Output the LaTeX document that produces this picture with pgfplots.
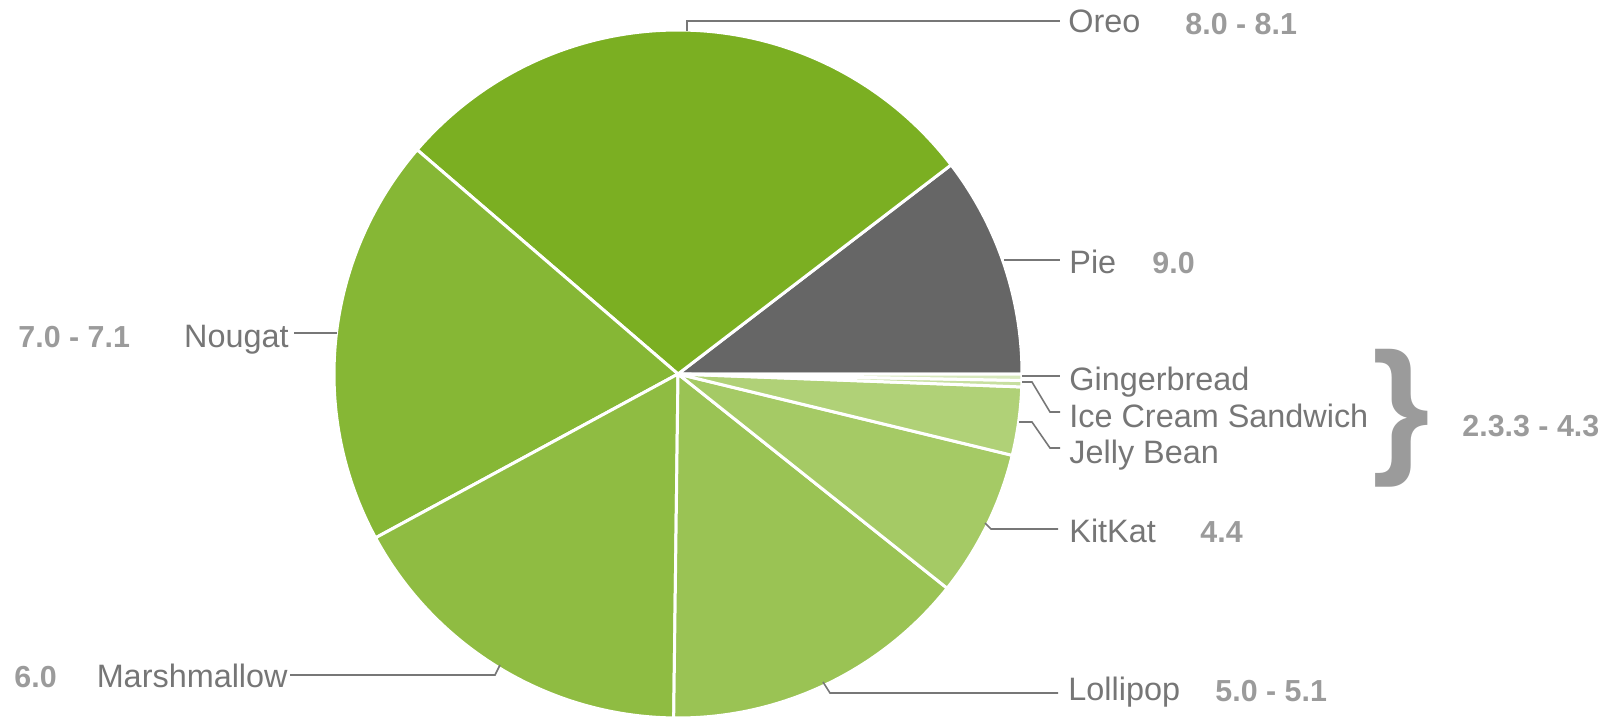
\documentclass[border=0pt]{standalone}
\usepackage{pgfplots}
\usepackage{pgfplotstable}
\pgfplotsset{compat=1.18}
\usepackage{fontspec}
\setmainfont{Liberation Sans}
\definecolor{c0}{HTML}{666666}
\definecolor{c1}{HTML}{7BAF22}
\definecolor{c2}{HTML}{86B735}
\definecolor{c3}{HTML}{8FBC42}
\definecolor{c4}{HTML}{9AC354}
\definecolor{c5}{HTML}{A5CA65}
\definecolor{c6}{HTML}{B0D177}
\definecolor{c7}{HTML}{C7DFA0}
\definecolor{c8}{HTML}{D8E9BD}
\definecolor{lblgray}{HTML}{767676}
\definecolor{vergray}{HTML}{9B9B9B}
\definecolor{linegray}{HTML}{777777}
\pgfplotstableread{
name pct
Pie 10.4
Oreo 28.3
Nougat 19.2
Marshmallow 16.9
Lollipop 14.5
KitKat 6.9
JellyBean 3.2
IceCreamSandwich 0.3
Gingerbread 0.3
}\piedata
\begin{document}
\begin{tikzpicture}
\xdef\cum{0}
\foreach \i in {0,...,8}{%
  \pgfplotstablegetelem{\i}{pct}\of\piedata
  \pgfmathsetmacro\st{\cum*3.6}%
  \pgfmathsetmacro\nc{\cum+\pgfplotsretval}%
  \pgfmathsetmacro\en{\nc*3.6}%
  \expandafter\xdef\csname st\i\endcsname{\st}%
  \expandafter\xdef\csname en\i\endcsname{\en}%
  \xdef\cum{\nc}%
}
\begin{axis}[name=ax, x=0.5pt, y=0.5pt, y dir=reverse,
  xmin=0, xmax=1614, ymin=0, ymax=717, hide axis, clip=false,
  scale only axis]
\pgfplotsinvokeforeach{0,...,8}{%
  \fill[c#1, draw=white, line width=1.5pt, line join=round]
    (axis cs:678,374) -- ++(\csname st#1\endcsname:172pt)
    arc[start angle=\csname st#1\endcsname, end angle=\csname en#1\endcsname, radius=172pt] -- cycle;
}
% leader lines
\draw[linegray, line width=0.8pt] (axis cs:687,31) -- (axis cs:687,21) -- (axis cs:1060,21);
\draw[linegray, line width=0.8pt] (axis cs:1004,260) -- (axis cs:1060,260);
\draw[linegray, line width=0.8pt] (axis cs:1022,376) -- (axis cs:1060,376);
\draw[linegray, line width=0.8pt] (axis cs:1022,382) -- (axis cs:1032,382) -- (axis cs:1050,412) -- (axis cs:1060,412);
\draw[linegray, line width=0.8pt] (axis cs:1019,422) -- (axis cs:1032,422) -- (axis cs:1050,448) -- (axis cs:1060,448);
\draw[linegray, line width=0.8pt] (axis cs:985,523) -- (axis cs:991,529) -- (axis cs:1058,529);
\draw[linegray, line width=0.8pt] (axis cs:823,682) -- (axis cs:830,693) -- (axis cs:1058,693);
\draw[linegray, line width=0.8pt] (axis cs:500,665) -- (axis cs:495,675) -- (axis cs:290,675);
\draw[linegray, line width=0.8pt] (axis cs:337,333) -- (axis cs:294,333);
% labels
\begin{scope}[every node/.style={inner sep=0pt, text=lblgray, font=\fontsize{16.2}{19}\selectfont}]
\node[anchor=base west] at (axis cs:1068,33) {Oreo};
\node[anchor=base west] at (axis cs:1069,273) {Pie};
\node[anchor=base west] at (axis cs:1069,390) {Gingerbread};
\node[anchor=base west] at (axis cs:1069,427) {Ice Cream Sandwich};
\node[anchor=base west] at (axis cs:1069,463) {Jelly Bean};
\node[anchor=base west] at (axis cs:1069,542) {KitKat};
\node[anchor=base west] at (axis cs:1068,700) {Lollipop};
\node[anchor=base east] at (axis cs:288,687) {Marshmallow};
\node[anchor=base east] at (axis cs:289,347) {Nougat};
\end{scope}
\begin{scope}[every node/.style={inner sep=0pt, text=vergray, font=\bfseries\fontsize{15.2}{18}\selectfont}]
\node[anchor=base west] at (axis cs:1185,35) {8.0 - 8.1};
\node[anchor=base west] at (axis cs:1152,273) {9.0};
\node[anchor=base west] at (axis cs:1200,542) {4.4};
\node[anchor=base west] at (axis cs:1215,701) {5.0 - 5.1};
\node[anchor=base west] at (axis cs:14,687) {6.0};
\node[anchor=base west] at (axis cs:18,347) {7.0 - 7.1};
\node[anchor=base west] at (axis cs:1462,437) {2.3.3 - 4.3};
\node[anchor=base west, font=\bfseries\fontsize{74}{80}\selectfont] at (axis cs:1372,456) {\}};
\end{scope}
\end{axis}
\pgfresetboundingbox
\useasboundingbox (ax.south west) rectangle (ax.north east);
\end{tikzpicture}
\end{document}
